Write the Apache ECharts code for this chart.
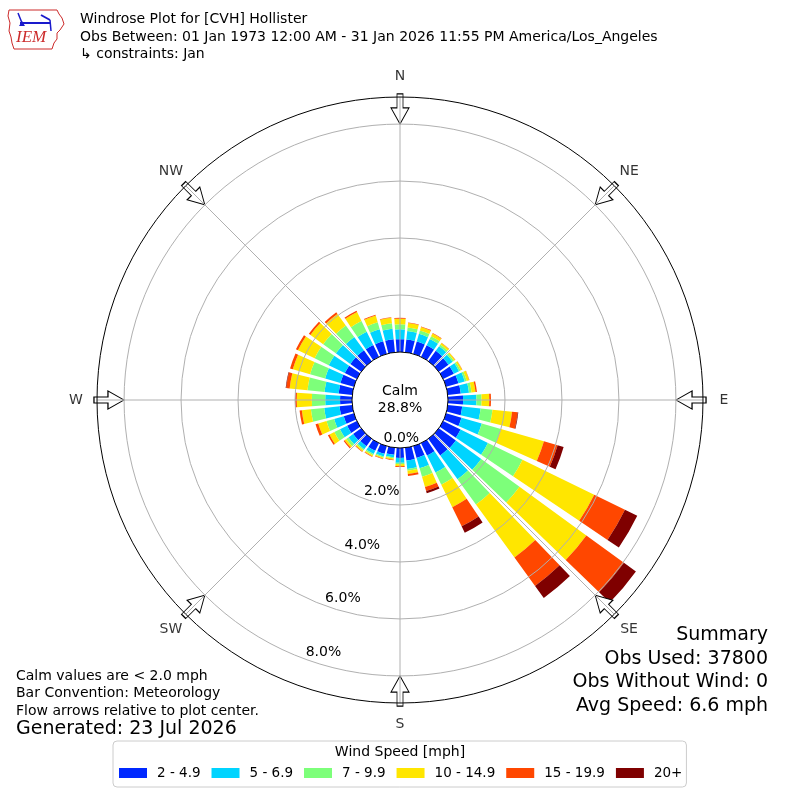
<!DOCTYPE html>
<html><head><meta charset="utf-8">
<script src="https://cdn.jsdelivr.net/npm/echarts@6/dist/echarts.min.js"></script>
<style>html,body{margin:0;padding:0;background:#fff}#c{width:800px;height:800px}</style>
</head><body><div id="c"></div><script>
// ---- data ----
const directions = ['0','10','20','30','40','50','60','70','80','90','100','110','120','130','140','150','160','170',
  '180','190','200','210','220','230','240','250','260','270','280','290','300','310','320','330','340','350'];
const speedBins = ['2 - 4.9','5 - 6.9','7 - 9.9','10 - 14.9','15 - 19.9','20+'];
const binColors = ['#0028ff','#00d4ff','#7dff7a','#ffe600','#ff4700','#7f0000'];
const bin2to5   = [.45,.45,.45,.45,.45,.42,.42,.45,.46,.53,.51,.56,.68,.74,.72,.48,.43,.45,.35,.25,.28,.30,.32,.35,.38,.37,.45,.42,.48,.49,.47,.47,.47,.46,.46,.46];
const bin5to7   = [.35,.30,.28,.25,.20,.18,.20,.23,.29,.47,.65,.74,1.07,1.10,1.03,.67,.38,.30,.17,.09,.10,.12,.13,.20,.28,.35,.54,.52,.50,.56,.63,.63,.58,.52,.44,.37];
const bin7to10  = [.17,.12,.12,.10,.07,.06,.06,.07,.09,.18,.42,.70,1.35,1.66,1.10,.47,.31,.06,.05,.04,.04,.05,.05,.10,.22,.28,.47,.47,.60,.55,.55,.55,.50,.42,.25,.19];
const bin10to15 = [.20,.16,.13,.11,.07,.05,.06,.09,.14,.27,.69,1.57,2.80,2.90,2.30,.88,.37,.12,.07,.04,.04,.05,.05,.07,.19,.30,.32,.53,.63,.63,.65,.55,.50,.35,.25,.20];
const bin15to20 = [.03,.02,.02,.02,.01,.01,.01,.01,.05,.06,.20,.50,1.20,1.63,1.23,.75,.15,.07,.03,.02,.02,.02,.02,.04,.06,.10,.08,.06,.12,.10,.08,.07,.07,.05,.03,.02];
const bin20plus = [0,0,0,0,0,0,0,0,0,0,.02,.22,.48,.52,.52,.25,.08,0,0,0,0,0,0,0,0,0,0,0,.02,0,0,0,0,0,0,0];
const compassLabels = ['N','NE','E','SE','S','SW','W','NW'];
const compassAngles = [0,45,90,135,180,225,270,315];
const radiusMax = 8.95;
const radiusInterval = 2;
const calmPct = 28.8;
const obsUsed = 37800, obsWithoutWind = 0, avgSpeed = 6.6;
const titleLines = ['Windrose Plot for [CVH] Hollister',
  'Obs Between: 01 Jan 1973 12:00 AM - 31 Jan 2026 11:55 PM America/Los_Angeles',
  '\u21b3 constraints: Jan'];
const noteLines = ['Calm values are < 2.0 mph','Bar Convention: Meteorology','Flow arrows relative to plot center.'];
const generated = 'Generated: 23 Jul 2026';

// ---- chart ----
const FONT = 'DejaVu Sans';
const R_IN = 48, R_OUT = 303, R_LABEL = 324;
const ARROW_R = 8.53;     // arrow centre, in radius-axis units
const binData = [bin2to5, bin5to7, bin7to10, bin10to15, bin15to20, bin20plus];
const chart = echarts.init(document.getElementById('c'), null, {renderer:'canvas'});
const grey = '#b0b0b0';
const none = 'rgba(0,0,0,0)';

const series = binData.map((arr, i) => ({
  type:'bar', coordinateSystem:'polar', polarIndex:0, stack:'wind', name:speedBins[i],
  data:arr, itemStyle:{color:binColors[i]}, barCategoryGap:'20%', z:2, silent:true
}));
series.push({
  type:'scatter', coordinateSystem:'polar', polarIndex:1, silent:true, z:3,
  symbol:'path://M6,0 L12,0 L12,14 L18,14 L9,30 L0,14 L6,14 Z', symbolSize:[18,30],
  itemStyle:{color:'#ffffff', borderColor:'#000', borderWidth:1, opacity:1},
  data: compassAngles.map(a => ({value:[ARROW_R, a], symbolRotate:-a}))
});
series.push({
  type:'scatter', coordinateSystem:'polar', polarIndex:3, silent:true, z:6,
  symbol:'circle', symbolSize:2, itemStyle:{color:none},
  label:{show:true, position:'inside', fontSize:14, fontFamily:FONT, color:'#000',
    formatter: p => p.name},
  data: compassAngles.map((a, i) => ({name:compassLabels[i], value:[1, a]}))
});

const txt = (x, y, text, size, align, extra) => Object.assign({
  type:'text', x:x, y:y, silent:true, z:10,
  style:Object.assign({text:text, fontSize:size, fontFamily:FONT, fill:'#000', align:align||'left', verticalAlign:'middle'}, extra||{})
});

const graphics = [
  // logo
  {type:'polyline', silent:true, shape:{points:[[9,10],[57,10],[59,14],[62,18],[64,24],[60,30],[57,33],[57,39],[54,43],[52,49],[14,49],[12,43],[11,37],[9,31],[10,23],[8,16],[9,10]]},
    style:{stroke:'#cc2b2b', lineWidth:1, fill:null}},
  {type:'line', silent:true, shape:{x1:20,y1:23,x2:50,y2:23}, style:{stroke:'#1a1acc', lineWidth:2}},
  {type:'line', silent:true, shape:{x1:18,y1:13,x2:22,y2:23}, style:{stroke:'#1a1acc', lineWidth:1.5}},
  {type:'line', silent:true, shape:{x1:41,y1:15,x2:50,y2:20}, style:{stroke:'#1a1acc', lineWidth:2}},
  {type:'line', silent:true, shape:{x1:50,y1:20,x2:51,y2:31}, style:{stroke:'#1a1acc', lineWidth:1.5}},
  {type:'polygon', silent:true, shape:{points:[[19,26],[22,21],[25,26]]}, style:{fill:'#1a1acc'}},
  {type:'text', x:16, y:38, silent:true, style:{text:'IEM', fontSize:17, fontFamily:'Liberation Serif', fontStyle:'italic', fill:'#cc2b2b', verticalAlign:'middle'}},
  // title
  txt(80, 19, titleLines[0], 14), txt(80, 37, titleLines[1], 14), txt(80, 54, titleLines[2], 14),
  // calm
  txt(400, 391, 'Calm', 14, 'center'), txt(400, 408, calmPct.toFixed(1) + '%', 14, 'center'),
  // notes
  txt(16, 676, noteLines[0], 14), txt(16, 693, noteLines[1], 14), txt(16, 711, noteLines[2], 14),
  txt(16, 729, generated, 19),
  // summary
  txt(768, 635, 'Summary', 19, 'right'),
  txt(768, 659, 'Obs Used: ' + obsUsed, 19, 'right'),
  txt(768, 682, 'Obs Without Wind: ' + obsWithoutWind, 19, 'right'),
  txt(768, 706, 'Avg Speed: ' + avgSpeed.toFixed(1) + ' mph', 19, 'right'),
  // legend title
  txt(400, 752, 'Wind Speed [mph]', 14, 'center')
];

const pctFmt = v => (Math.abs(v / radiusInterval - Math.round(v / radiusInterval)) < 1e-6) ? v.toFixed(1) + '%' : '';
const hiddenAxis = {axisLine:{show:false}, axisTick:{show:false}, axisLabel:{show:false}, splitLine:{show:false}};

chart.setOption({
  animation:false,
  backgroundColor:'#fff',
  textStyle:{fontFamily:FONT},
  polar:[
    {center:['50%','50%'], radius:[R_IN, R_OUT]},
    {center:['50%','50%'], radius:[R_IN, R_OUT]},
    {center:['50%','50%'], radius:[R_IN, R_OUT]},
    {center:['50%','50%'], radius:[0, R_LABEL]}
  ],
  angleAxis:[
    Object.assign({polarIndex:0, type:'category', data:directions, startAngle:95, clockwise:true, boundaryGap:true}, hiddenAxis),
    {polarIndex:1, type:'value', min:0, max:360, interval:45, startAngle:90, clockwise:true, z:5,
      axisLine:{show:true, lineStyle:{color:'#000', width:1}}, axisTick:{show:false},
      axisLabel:{show:false},
      splitLine:{show:true, lineStyle:{color:grey, width:1}}},
    Object.assign({polarIndex:2, type:'value', min:0, max:360, startAngle:250, clockwise:true}, hiddenAxis),
    Object.assign({polarIndex:3, type:'value', min:0, max:360, startAngle:90, clockwise:true}, hiddenAxis)
  ],
  radiusAxis:[
    Object.assign({polarIndex:0, type:'value', min:0, max:radiusMax}, hiddenAxis),
    {polarIndex:1, type:'value', min:0, max:radiusMax, interval:radiusInterval, z:4,
      axisLine:{show:false}, axisTick:{show:false}, axisLabel:{show:false},
      splitLine:{show:true, lineStyle:{color:[none, grey, grey, grey, grey, none], width:1}}},
    {polarIndex:2, type:'value', min:0, max:radiusMax, interval:radiusInterval, z:6,
      axisLine:{show:false}, axisTick:{show:false}, splitLine:{show:false},
      axisLabel:{show:true, margin:0, rotate:0, align:'left', verticalAlign:'bottom', fontSize:14, color:'#000', fontFamily:FONT, formatter:pctFmt}},
    Object.assign({polarIndex:3, type:'value', min:0, max:1}, hiddenAxis)
  ],
  legend:{
    data:speedBins, left:113, top:741, orient:'horizontal', icon:'rect', selectedMode:false,
    itemWidth:28, itemHeight:10, itemGap:11, padding:[25,4,7,6],
    borderColor:'#cccccc', borderWidth:1, borderRadius:4, backgroundColor:'#fff',
    textStyle:{fontSize:13.5, fontFamily:FONT, color:'#000', padding:[0,0,0,5]}
  },
  graphic:graphics,
  series:series
});
</script></body></html>
